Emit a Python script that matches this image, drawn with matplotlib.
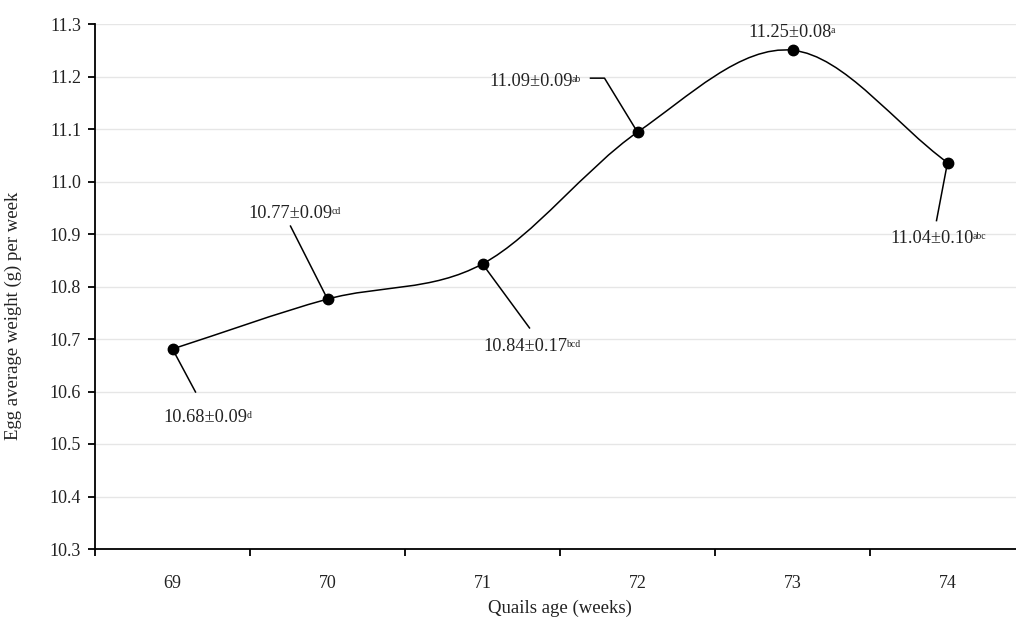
import matplotlib
matplotlib.use('Agg')
import matplotlib.pyplot as plt
import numpy as np
from matplotlib.path import Path
from matplotlib.patches import PathPatch
from matplotlib.transforms import ScaledTranslation

# data
ages = ['69', '70', '71', '72', '73', '74']
means = [10.681, 10.776, 10.843, 11.094, 11.250, 11.036]
labels = ['10.68±0.09', '10.77±0.09', '10.84±0.17', '11.09±0.09', '11.25±0.08', '11.04±0.10']
letters = ['d', 'cd', 'bcd', 'ab', 'a', 'abc']

# label placement (pixel offsets from the point): text left/baseline, leader path
text_off = [(-9, -73), (-79, 81), (1, -87), (-148, 46), (-44, 13), (-57, -80)]
leader_off = [[(23, -43)], [(-37, 73)], [(47, -64)], [(-33, 54), (-47, 54)], [], [(-11, -58)]]

plt.rcParams['font.family'] = ['Liberation Serif', 'DejaVu Serif']
plt.rcParams['font.size'] = 13

fig = plt.figure(figsize=(10.16, 6.2), dpi=100)
ax = fig.add_axes([95 / 1016, 1 - 549 / 620, 930 / 1016, 525 / 620])

x = np.arange(len(ages))
y = np.array(means)

# smoothed line as in spreadsheet charts (cubic Bezier, Catmull-Rom tangents)
pts = np.column_stack([x, y]).astype(float)
n = len(pts)
verts = [pts[0]]
codes = [Path.MOVETO]
for i in range(n - 1):
    prev = pts[i - 1] if i > 0 else pts[i]
    nxt = pts[i + 2] if i + 2 < n else pts[i + 1]
    c1 = pts[i] + (pts[i + 1] - prev) / (6 if i > 0 else 3)
    c2 = pts[i + 1] - (nxt - pts[i]) / (6 if i + 2 < n else 3)
    verts += [c1, c2, pts[i + 1]]
    codes += [Path.CURVE4] * 3
ax.add_patch(PathPatch(Path(verts, codes), fill=False, edgecolor='black', lw=1.1, zorder=3))
ax.plot(x, y, 'o', color='black', ms=7.5, zorder=4)

for i in range(n):
    tr = ScaledTranslation(x[i], y[i], ax.transData)
    if leader_off[i]:
        lx = [0] + [p[0] for p in leader_off[i]]
        ly = [0] + [p[1] for p in leader_off[i]]
        ax.add_line(plt.Line2D(lx, ly, transform=tr, color='black', lw=1.1, zorder=3))
    t = ax.annotate(labels[i], (x[i], y[i]), xytext=text_off[i], textcoords='offset pixels',
                    ha='left', va='baseline', fontsize=13.2, color='#222222')
    ax.annotate(letters[i], xy=(1, 1), xycoords=t, xytext=(-1, -2), textcoords='offset pixels',
                ha='left', va='top', fontsize=7, color='#222222')

ax.set_xlim(-0.5, n - 0.5)
ax.set_ylim(10.3, 11.3)
ax.set_yticks(np.arange(10.3, 11.31, 0.1))
ax.yaxis.set_major_formatter(matplotlib.ticker.FormatStrFormatter('%.1f'))
ax.set_xticks(np.arange(-0.5, n, 1.0))
ax.set_xticklabels([])
ax.set_xticks(x, minor=True)
ax.set_xticklabels(ages, minor=True)
ax.tick_params(axis='x', which='minor', length=0, pad=19, labelsize=13, labelcolor='#222222')
ax.tick_params(axis='both', which='major', length=5, width=1.3, direction='out', labelsize=13,
               labelcolor='#222222', pad=5)

ax.grid(axis='y', color='#e6e6e6', lw=1)
ax.set_axisbelow(True)
for s in ['top', 'right']:
    ax.spines[s].set_visible(False)
for s in ['left', 'bottom']:
    ax.spines[s].set_linewidth(1.3)
ax.spines['left'].set_zorder(5)

ax.set_xlabel('Quails age (weeks)', fontsize=13.5, color='#222222', labelpad=5)
fig.text(13 / 1016, 1 - 316 / 620, 'Egg average weight (g) per week', rotation=90,
         ha='center', va='center', fontsize=13.5, color='#222222')

fig.savefig('out.png', dpi=100)
